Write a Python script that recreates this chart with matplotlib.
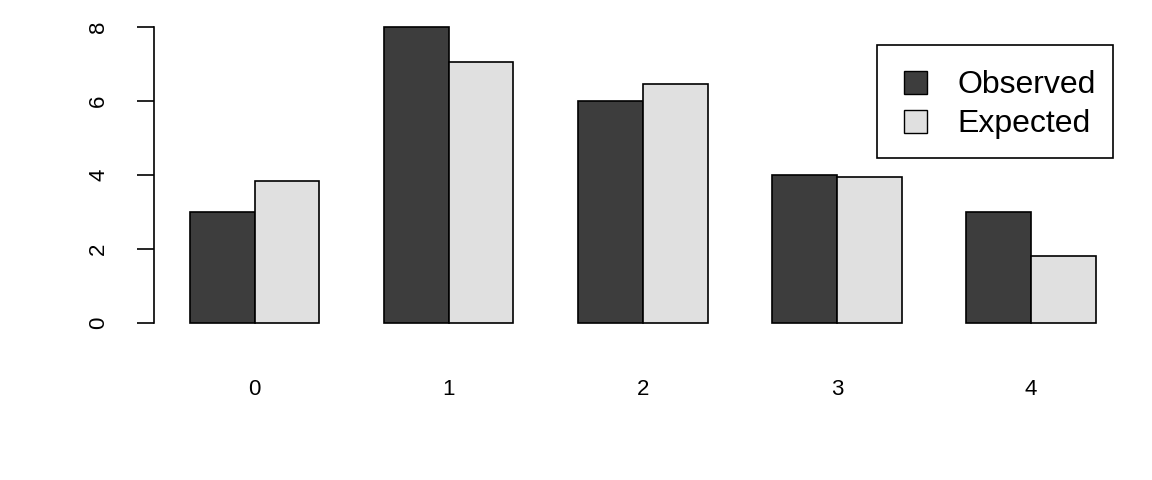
import numpy as np
import matplotlib.pyplot as plt
from matplotlib.patches import Patch, Rectangle
from matplotlib.legend_handler import HandlerPatch

plt.rcParams['font.family'] = ['Liberation Sans', 'DejaVu Sans']

categorias = ['0', '1', '2', '3', '4']
observado = [3, 8, 6, 4, 3]
esperado = [3.84, 7.05, 6.46, 3.95, 1.81]

COR_OBS = '#3d3d3d'
COR_ESP = '#e0e0e0'

fig = plt.figure(figsize=(11.52, 4.8), dpi=100)
ax = fig.add_axes([0.1335, 0.302, 0.8491, 0.666])

# layout estilo barplot(beside=TRUE): grupos de 2 barras + 1 espaço
x_obs = np.array([1 + 3 * i for i in range(len(categorias))])
x_esp = x_obs + 1
ax.bar(x_obs, observado, width=1, align='edge', color=COR_OBS, edgecolor='black', linewidth=1.2)
ax.bar(x_esp, esperado, width=1, align='edge', color=COR_ESP, edgecolor='black', linewidth=1.2)

ax.set_xlim(1 - 14 * 0.04, 15 + 14 * 0.04)
ax.set_ylim(-8 * 0.04, 8 + 8 * 0.04)

for lado in ['top', 'right', 'bottom']:
    ax.spines[lado].set_visible(False)
ax.spines['left'].set_bounds(0, 8)
ax.spines['left'].set_linewidth(1.2)

ax.set_yticks([0, 2, 4, 6, 8])
ax.set_yticklabels(['0', '2', '4', '6', '8'], rotation=90, va='center', fontsize=16)
ax.tick_params(axis='y', length=12, width=1.2, pad=20)

ax.set_xticks(x_obs + 1)
ax.set_xticklabels(categorias, fontsize=16)
ax.tick_params(axis='x', length=0, pad=32)


# quadradinho da legenda encostado à direita da área do handle (como no R)
def quadrado(legend, orig_handle, xdescent, ydescent, width, height, fontsize):
    s = 0.72 * fontsize
    return Rectangle((-xdescent + width - s, -ydescent + (height - s) / 2), s, s)


handles = [Patch(facecolor=COR_OBS, edgecolor='black'),
           Patch(facecolor=COR_ESP, edgecolor='black')]
leg = ax.legend(handles, ['Observed', 'Expected'], loc='upper right',
                bbox_to_anchor=(0.9806, 0.9068), fontsize=23, fancybox=False,
                edgecolor='black', framealpha=1, handlelength=1.0, handleheight=1.5,
                handletextpad=0.95, borderpad=0.55, labelspacing=0.0, borderaxespad=0,
                handler_map={Patch: HandlerPatch(patch_func=quadrado)})
leg.get_frame().set_linewidth(1.2)

fig.savefig('out.png', dpi=100)
